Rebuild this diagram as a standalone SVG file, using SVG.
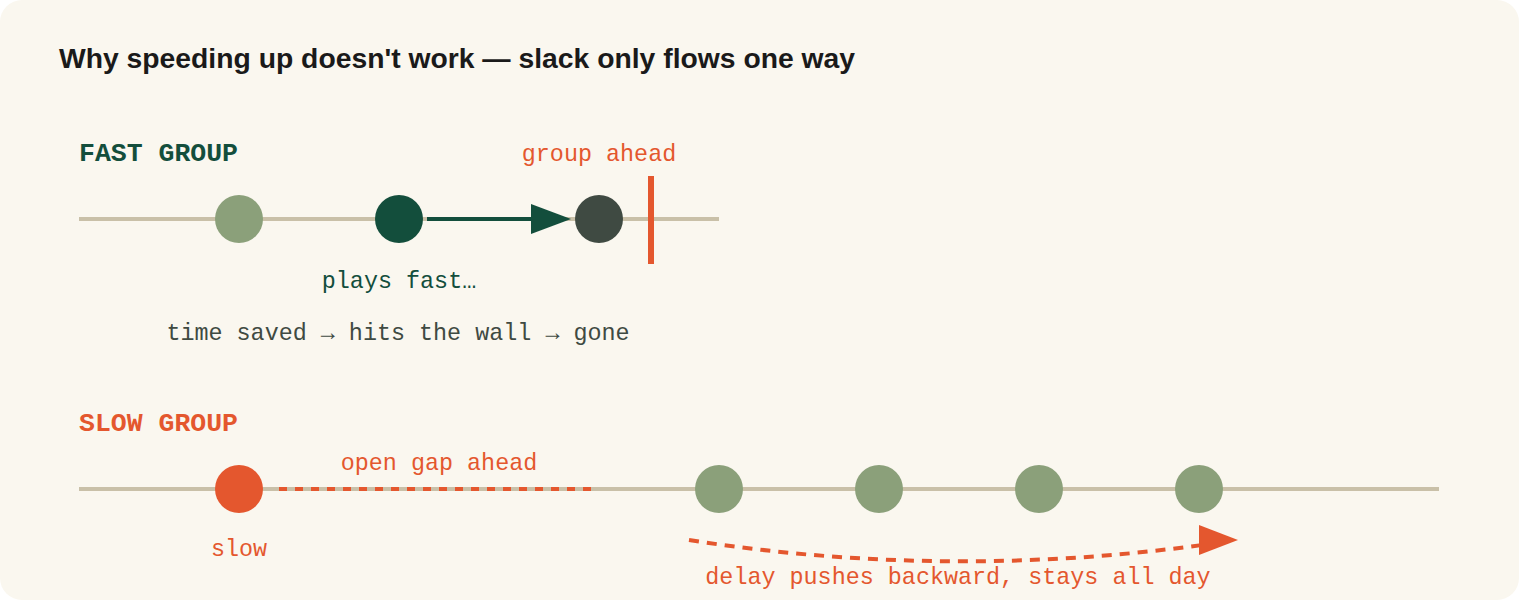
<svg xmlns="http://www.w3.org/2000/svg" width="1519" height="600" viewBox="0 0 1519 600">
<style>
.title{font-family:"Liberation Sans",Arial,sans-serif;font-weight:bold;font-size:28.3px;fill:#1a1a1a}
.grp{font-family:"Liberation Mono","DejaVu Sans Mono",monospace;font-weight:bold;font-size:26.5px}
.lbl{font-family:"Liberation Mono","DejaVu Sans Mono",monospace;font-size:23.4px}
.track{stroke:#c9c0a8;stroke-width:4;fill:none}
.green{fill:#134e3c}
.red{fill:#e4572e}
.grey{fill:#3f4a42}
.light{fill:#8ba07a}
</style>
<rect x="0" y="0" width="1519" height="600" rx="22" ry="22" fill="#faf7ef"/>
<text class="title" x="59" y="68">Why speeding up doesn't work — slack only flows one way</text>

<g id="fast-group">
  <text class="grp green" x="79" y="161">FAST GROUP</text>
  <line class="track" x1="79" y1="219" x2="719" y2="219"/>
</g>
<g id="fast-c1"><circle class="light" cx="239" cy="219" r="24"/></g>
<g id="fast-c2"><circle class="green" cx="399" cy="219" r="24"/>
  <text class="lbl green" x="399" y="288" text-anchor="middle">plays fast…</text></g>
<g id="fast-c3"><circle class="grey" cx="599" cy="219" r="24"/></g>
<g id="wall">
  <line x1="651" y1="176" x2="651" y2="264" stroke="#e4572e" stroke-width="6"/>
  <text class="lbl red" x="599" y="161" text-anchor="middle">group ahead</text>
</g>
<text class="lbl grey" x="398" y="340" text-anchor="middle">time saved → hits the wall → gone</text>

<g id="slow-group">
  <text class="grp red" x="79" y="431">SLOW GROUP</text>
  <line class="track" x1="79" y1="489" x2="1439" y2="489"/>
</g>
<g id="slow-c1"><circle class="red" cx="239" cy="489" r="24"/>
  <text class="lbl red" x="239" y="556" text-anchor="middle">slow</text></g>
<g id="slow-c2"><circle class="light" cx="719" cy="489" r="24"/></g>
<g id="slow-c3"><circle class="light" cx="879" cy="489" r="24"/></g>
<g id="slow-c4"><circle class="light" cx="1039" cy="489" r="24"/></g>
<g id="slow-c5"><circle class="light" cx="1199" cy="489" r="24"/></g>
<text class="lbl red" x="439" y="470" text-anchor="middle">open gap ahead</text>
<text class="lbl red" x="958" y="584" text-anchor="middle">delay pushes backward, stays all day</text>

<g id="connectors">
  <line x1="427" y1="219" x2="540" y2="219" stroke="#134e3c" stroke-width="4"/>
  <polygon points="531,204 571,219 531,234" fill="#134e3c"/>
  <line x1="279" y1="489" x2="591" y2="489" stroke="#e4572e" stroke-width="4" stroke-dasharray="8 8"/>
  <path d="M689,540 Q945,580 1202,545" fill="none" stroke="#e4572e" stroke-width="4" stroke-dasharray="10 8"/>
  <polygon points="1199,525 1238,540 1199,555" fill="#e4572e"/>
</g>
</svg>
